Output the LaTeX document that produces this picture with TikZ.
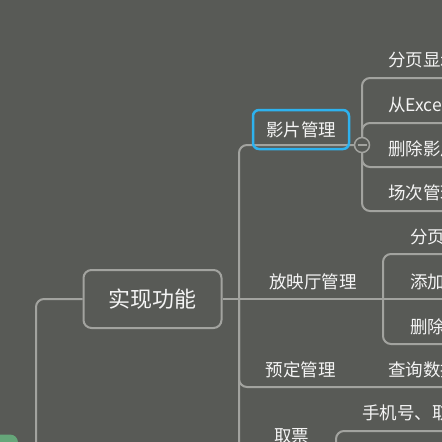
\documentclass[tikz,border=0pt]{standalone}
\usepackage{fontspec}
\setmainfont{Noto Sans CJK SC}
\usetikzlibrary{calc}

\definecolor{bgc}{HTML}{585A56}
\definecolor{linec}{HTML}{A2A39F}
\definecolor{selc}{HTML}{2EB2EE}
\definecolor{rootc}{HTML}{65A679}
\definecolor{txtc}{HTML}{F4F4F4}

\begin{document}
\begin{tikzpicture}[x=1pt,y=-1pt,
	Link/.style = {draw=linec, line width=2pt, rounded corners=8pt},
	Topic/.style = {text=txtc, font=\fontsize{17.5}{20}\selectfont, inner sep=0pt},
	Sub/.style = {Topic, anchor=west}]
	\useasboundingbox (0,0) rectangle (442,442);
	\clip (0,0) rectangle (442,442);
	\fill[bgc] (0,0) rectangle (442,442);

	\node[fill=rootc, rounded corners=8pt, minimum width=98pt, minimum height=55pt] (G) at (-31,462) {};
	\node[Topic, draw=linec, line width=2pt, rounded corners=8pt, minimum width=138pt, minimum height=58pt, font=\fontsize{22}{24}\selectfont] (R) at (152.5,299) {实现功能};
	\coordinate (Lj) at (36,299);
	\draw[Link] (G.east) -| (Lj) -- (R.west);

	\coordinate (J) at (239,299);
	\coordinate (Fj) at (362,145);
	\coordinate (Pj) at (383,299);
	\coordinate (Qj) at (336,453);

	\node[Topic] (P) at (313,282) {放映厅管理};
	\node[Topic] (Y) at (300.5,370) {预定管理};
	\node[Topic] (Q) at (291.5,436) {取票};

	\begin{scope}[every node/.append style = {Sub}]
		\node (F1) at (388,60) {分页显示影片};
		\node (F2) at (388,105) {从Excel导入影片};
		\node (F3) at (388,149) {删除影片};
		\node (F4) at (388,193) {场次管理};
		\node (P1) at (410,237) {分页显示};
		\node (P2) at (410,282) {添加放映厅};
		\node (P3) at (410,327) {删除放映厅};
		\node (Y1) at (388,370) {查询数据};
		\node (Q1) at (362,413) {手机号、取票码};
	\end{scope}

	\draw[Link] (J) |- (Fj);
	\draw[Link] (R.east) -- (Pj) -- ([yshift=-17pt]P2.west) -- ++(60,0);
	\draw[Link] (J) |- ([yshift=-17pt]Y1.west) -- ++(80,0);
	\draw[Link] (J) |- (Qj);
	\foreach \k in {F1,F2,F3,F4}
		\draw[Link] (Fj) |- ([yshift=-18pt]\k.west) -- ++(80,0);
	\foreach \k in {P1,P3}
		\draw[Link] (Pj) |- ([yshift=-17pt]\k.west) -- ++(60,0);
	\draw[Link] (Qj) |- ([yshift=-18pt]Q1.west) -- ++(100,0);

	\node[Topic, draw=selc, line width=2.5pt, rounded corners=6pt, minimum width=96pt, minimum height=39pt] (F) at (301,129.5) {影片管理};
	\node[circle, draw=linec, line width=1.5pt, fill=bgc, minimum size=15pt, inner sep=0pt] (C) at (Fj) {};
	\draw[linec, line width=1.5pt] ([xshift=-4.5pt]C.center) -- ([xshift=4.5pt]C.center);
\end{tikzpicture}
\end{document}
